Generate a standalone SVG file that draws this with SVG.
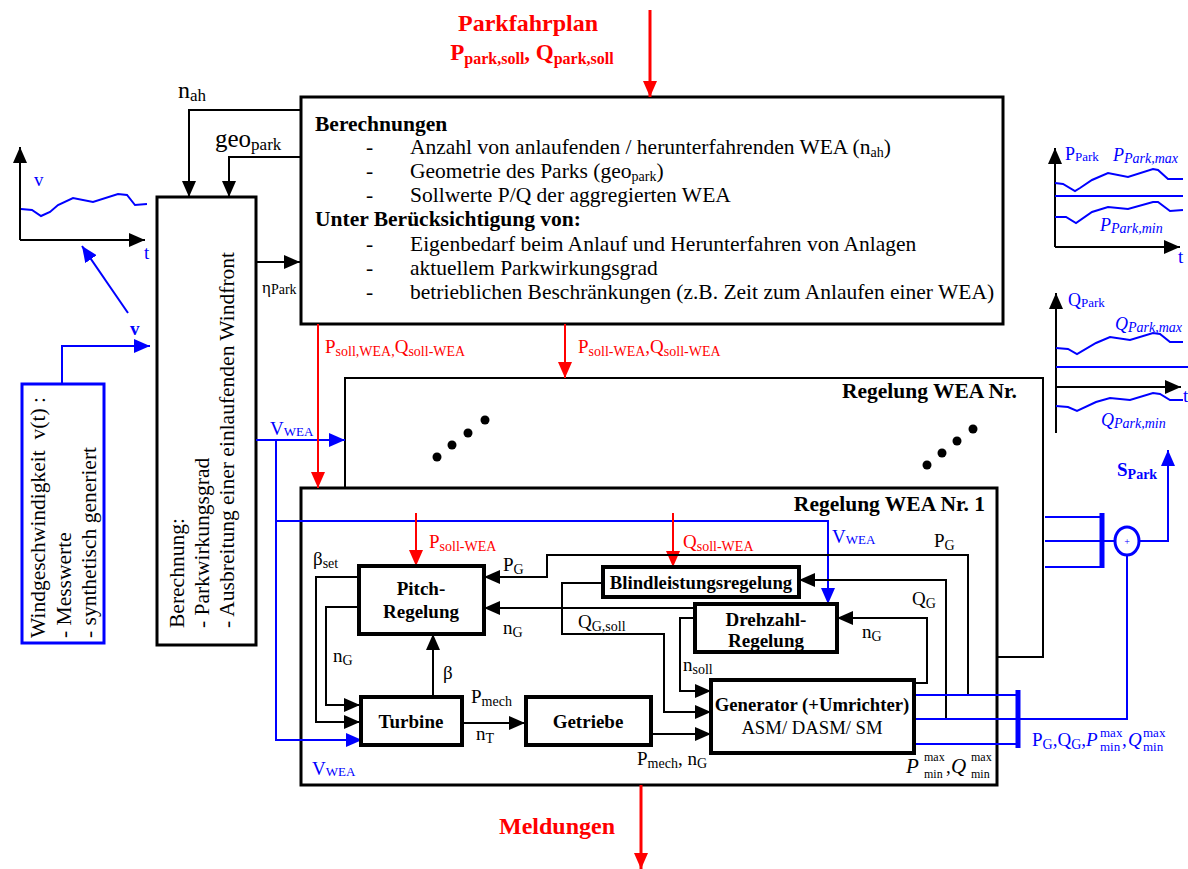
<svg xmlns="http://www.w3.org/2000/svg" width="1188" height="869" viewBox="0 0 1188 869">
<defs>
<style>
text{font-family:"Liberation Serif","Times New Roman",serif;fill:#000;font-size:19px}
.f17{font-size:17px}
.f18{font-size:18px}
.fb{font-size:18.7px}
.fm{font-size:21.5px}
.f24{font-size:24px}
.b{font-weight:bold}
.i{font-style:italic}
.red{fill:#f00}
.blue{fill:#00f}
.s{font-size:13px}
.s12{font-size:12px}
.s14{font-size:14px}
.s16{font-size:16px}
.box{fill:#fff;stroke:#000;stroke-width:3}
.blk{fill:#fff;stroke:#000;stroke-width:4}
.w{fill:none;stroke:#000;stroke-width:2}
.wb{fill:none;stroke:#00f;stroke-width:2}
.wr{fill:none;stroke:#f00;stroke-width:2}
.ctr{text-anchor:middle}
.end{text-anchor:end}
</style>
<marker id="ak" markerUnits="userSpaceOnUse" markerWidth="16" markerHeight="14" refX="16" refY="7" orient="auto"><path d="M0,0 L16,7 L0,14 z" fill="#000"/></marker>
<marker id="abl" markerUnits="userSpaceOnUse" markerWidth="16" markerHeight="14" refX="16" refY="7" orient="auto"><path d="M0,0 L16,7 L0,14 z" fill="#00f"/></marker>
<marker id="ar" markerUnits="userSpaceOnUse" markerWidth="16" markerHeight="14" refX="16" refY="7" orient="auto"><path d="M0,0 L16,7 L0,14 z" fill="#f00"/></marker>
</defs>
<rect width="1188" height="869" fill="#fff"/>

<!-- schedule input -->
<g id="parkfahrplan">
<text x="528" y="31" class="f24 b red ctr">Parkfahrplan</text>
<text x="532" y="60" class="b red ctr" style="font-size:23px">P<tspan class="s16" dy="4">park,soll</tspan><tspan dy="-4">, Q</tspan><tspan class="s16" dy="4">park,soll</tspan></text>
</g>

<!-- wind speed chart -->
<g id="chart-v">
<path d="M20,240 V147" class="w" marker-end="url(#ak)"/>
<path d="M20,240 H145" class="w" marker-end="url(#ak)"/>
<path d="M21,209 L32,210 L41,216 L50,212 L58,205 L73,198 L93,202 L118,194 L127,195 L135,205 L147,204" class="wb"/>
<text x="34" y="186" class="blue">v</text>
<text x="144" y="259" class="blue">t</text>
</g>

<!-- wind speed source -->
<g id="wind-source">
<rect x="22" y="384" width="82" height="259" fill="#fff" stroke="#00f" stroke-width="3"/>
<text transform="translate(45,638) rotate(-90)" class="fm" xml:space="preserve">Windgeschwindigkeit  v(t) :</text>
<text transform="translate(71,638) rotate(-90)" class="fm">- Messwerte</text>
<text transform="translate(96,638) rotate(-90)" class="fm">- synthetisch generiert</text>
</g>

<!-- park level wind front calculation -->
<g id="windfront">
<rect x="157" y="197" width="99" height="448" class="box"/>
<text transform="translate(184,628) rotate(-90)" class="fm">Berechnung:</text>
<text transform="translate(209,628) rotate(-90)" class="fm">- Parkwirkungsgrad</text>
<text transform="translate(234,628) rotate(-90)" class="fm">- Ausbreitung einer einlaufenden Windfront</text>
</g>

<!-- park level calculations -->
<g id="berechnungen">
<rect x="301" y="97" width="702" height="227" class="box"/>
<text x="315" y="131" class="fm b">Berechnungen</text>
<text x="366" y="154" class="fm">-</text>
<text x="410" y="154" class="fm">Anzahl von anlaufenden / herunterfahrenden WEA (n<tspan class="s14" dy="3">ah</tspan><tspan dy="-3">)</tspan></text>
<text x="366" y="178" class="fm">-</text>
<text x="410" y="178" class="fm">Geometrie des Parks (geo<tspan class="s14" dy="3">park</tspan><tspan dy="-3">)</tspan></text>
<text x="366" y="202" class="fm">-</text>
<text x="410" y="202" class="fm">Sollwerte P/Q der aggregierten WEA</text>
<text x="315" y="226" class="fm b">Unter Berücksichtigung von:</text>
<text x="366" y="251" class="fm">-</text>
<text x="410" y="251" class="fm">Eigenbedarf beim Anlauf und Herunterfahren von Anlagen</text>
<text x="366" y="275" class="fm">-</text>
<text x="410" y="275" class="fm">aktuellem Parkwirkungsgrad</text>
<text x="366" y="299" class="fm">-</text>
<text x="410" y="299" class="fm">betrieblichen Beschränkungen (z.B. Zeit zum Anlaufen einer WEA)</text>
</g>

<!-- stacked turbine controllers -->
<g id="regelung-n">
<path d="M345,488 V378 H1043 V657 H997" fill="none" stroke="#000" stroke-width="2"/>
<text x="1017" y="398" class="fm b end">Regelung WEA Nr.</text>
<circle cx="437" cy="457" r="4.5"/><circle cx="452" cy="445" r="4.5"/><circle cx="468" cy="433" r="4.5"/><circle cx="485" cy="420" r="4.5"/>
<circle cx="927" cy="465" r="4.5"/><circle cx="942" cy="453" r="4.5"/><circle cx="957" cy="441" r="4.5"/><circle cx="973" cy="429" r="4.5"/>
</g>

<g id="regelung-1">
<rect x="301" y="488" width="696" height="297" class="box"/>
<text x="985" y="511" class="fm b end">Regelung WEA Nr. 1</text>
</g>

<!-- power chart -->
<g id="chart-p">
<path d="M1055,247 V148" class="w" marker-end="url(#ak)"/>
<path d="M1055,247 H1180" class="w" marker-end="url(#ak)"/>
<path d="M1055,183 L1063,184 L1075,191 L1080,188 L1092,180 L1108,173 L1128,177 L1153,169 L1158,170 L1168,179 L1183,179" class="wb"/>
<path d="M1055,196 H1183" class="wb"/>
<path d="M1055,217 L1066,217 L1076,223 L1092,212 L1108,207 L1128,209 L1153,202 L1158,202 L1170,211 L1183,210" class="wb"/>
<text x="1065" y="160" class="blue f18">P<tspan class="s" dy="1">Park</tspan></text>
<text x="1113" y="161" class="blue i f18">P<tspan class="s14" dy="2">Park,max</tspan></text>
<text x="1100" y="231" class="blue i f18">P<tspan class="s14" dy="2">Park,min</tspan></text>
<text x="1178" y="263" class="blue">t</text>
</g>

<!-- reactive power chart -->
<g id="chart-q">
<path d="M1056,433 V293" class="w" marker-end="url(#ak)"/>
<path d="M1056,387 H1181" class="w" marker-end="url(#ak)"/>
<path d="M1056,348 L1068,349 L1077,354 L1096,343 L1110,337 L1130,340 L1153,333 L1160,334 L1170,342 L1183,342" class="wb"/>
<path d="M1056,367 H1188" class="wb"/>
<path d="M1056,406 L1068,407 L1077,411 L1096,402 L1110,398 L1130,400 L1153,393 L1160,394 L1170,400 L1183,400" class="wb"/>
<text x="1068" y="306" class="blue f18">Q<tspan class="s" dy="1">Park</tspan></text>
<text x="1115" y="330" class="blue i f18">Q<tspan class="s14" dy="2">Park,max</tspan></text>
<text x="1101" y="426" class="blue i f18">Q<tspan class="s14" dy="2">Park,min</tspan></text>
<text x="1183" y="402" class="blue">t</text>
</g>

<!-- connectors -->
<g id="connectors">
<path d="M650,10 V97" fill="none" stroke="#f00" stroke-width="3" marker-end="url(#ar)"/>
<path d="M301,110 H189 V197" class="w" marker-end="url(#ak)"/>
<path d="M301,157 H229 V197" class="w" marker-end="url(#ak)"/>
<path d="M256,262 H300" class="w" marker-end="url(#ak)"/>
<path d="M128,313 L82,246" class="wb" marker-end="url(#abl)"/>
<path d="M62,384 V346 H150" class="wb" marker-end="url(#abl)"/>
<path d="M256,440 H345" class="wb" marker-end="url(#abl)"/>
<path d="M276,440 V740 H362" class="wb" marker-end="url(#abl)"/>
<path d="M276,521 H828 V604" class="wb" marker-end="url(#abl)"/>
<path d="M318,324 V488" class="wr" marker-end="url(#ar)"/>
<path d="M565,324 V378" class="wr" marker-end="url(#ar)"/>
<path d="M416,513 V566" class="wr" marker-end="url(#ar)"/>
<path d="M673,513 V567" class="wr" marker-end="url(#ar)"/>
<path d="M968,695 V555 H547 V577 H484" class="w" marker-end="url(#ak)"/>
<path d="M946,719 V580 H799" class="w" marker-end="url(#ak)"/>
<path d="M914,683 H927 V618 H837" class="w" marker-end="url(#ak)"/>
<path d="M695,608 H484" class="w" marker-end="url(#ak)"/>
<path d="M603,583 H562 V634 H664 V712 H711" class="w" marker-end="url(#ak)"/>
<path d="M695,618 H680 V691 H711" class="w" marker-end="url(#ak)"/>
<path d="M651,734 H711" class="w" marker-end="url(#ak)"/>
<path d="M462,723 H525" class="w" marker-end="url(#ak)"/>
<path d="M433,697 V634" class="w" marker-end="url(#ak)"/>
<path d="M358,577 H316 V722 H360" class="w" marker-end="url(#ak)"/>
<path d="M358,607 H326 V705 H360" class="w" marker-end="url(#ak)"/>
<path d="M914,695 H1018 M914,719 H1018 M914,744 H1018" class="wb"/>
<path d="M1018,690 V748" stroke="#00f" stroke-width="5"/>
<path d="M1045,517 H1102 M1045,541 H1102 M1045,567 H1102" class="wb"/>
<path d="M1102,513 V568" stroke="#00f" stroke-width="5"/>
<path d="M1102,541 H1115" class="wb"/>
<path d="M1127,555 V719 H1018" class="wb"/>
<path d="M1139,541 H1168 V450" class="wb" marker-end="url(#abl)"/>
<path d="M641,785 V869" fill="none" stroke="#f00" stroke-width="3" marker-end="url(#ar)"/>
</g>

<!-- sum point -->
<g id="summe">
<ellipse cx="1127" cy="541" rx="12" ry="14" fill="#fff" stroke="#00f" stroke-width="3"/>
<text x="1127" y="545" class="blue ctr" style="font-size:10px">+</text>
</g>

<!-- blocks inside controller 1 -->
<g id="pitch">
<rect x="359" y="566" width="125" height="68" class="blk"/>
<text x="421" y="595" class="b ctr">Pitch-</text>
<text x="421" y="618" class="b ctr">Regelung</text>
</g>
<g id="turbine">
<rect x="361" y="697" width="101" height="48" class="blk"/>
<text x="411" y="728" class="b ctr">Turbine</text>
</g>
<g id="getriebe">
<rect x="526" y="697" width="125" height="48" class="blk"/>
<text x="588" y="728" class="b ctr">Getriebe</text>
</g>
<g id="blindleistung">
<rect x="603" y="567" width="196" height="30" class="blk"/>
<text x="701" y="589" class="b ctr fb">Blindleistungsregelung</text>
</g>
<g id="drehzahl">
<rect x="695" y="604" width="142" height="48" class="blk"/>
<text x="766" y="626" class="b ctr">Drehzahl-</text>
<text x="766" y="647" class="b ctr">Regelung</text>
</g>
<g id="generator">
<rect x="711" y="680" width="203" height="73" class="blk"/>
<text x="812" y="711" class="b ctr fb">Generator (+Umrichter)</text>
<text x="812" y="734" class="ctr fb">ASM/ DASM/ SM</text>
</g>

<!-- signal labels -->
<g id="labels">
<text x="178" y="98" style="font-size:24px">n<tspan style="font-size:17px" dy="3">ah</tspan></text>
<text x="215" y="147" style="font-size:25px">geo<tspan style="font-size:17px" dy="3">park</tspan></text>
<text x="262" y="293" class="f17">η<tspan class="s14" dy="1">Park</tspan></text>
<text x="130" y="335" class="blue b">v</text>
<text x="270" y="435" class="blue">V<tspan class="s" dy="1">WEA</tspan></text>
<text x="325" y="353" class="red">P<tspan class="s14" dy="3">soll,WEA,</tspan><tspan dy="-3">Q</tspan><tspan class="s14" dy="3">soll-WEA</tspan></text>
<text x="578" y="353" class="red">P<tspan class="s14" dy="3">soll-WEA</tspan><tspan dy="-3">,Q</tspan><tspan class="s14" dy="3">soll-WEA</tspan></text>
<text x="429" y="548" class="red">P<tspan class="s14" dy="3">soll-WEA</tspan></text>
<text x="683" y="548" class="red">Q<tspan class="s14" dy="3">soll-WEA</tspan></text>
<text x="832" y="543" class="blue">V<tspan class="s" dy="1">WEA</tspan></text>
<text x="934" y="547">P<tspan class="s14" dy="3">G</tspan></text>
<text x="313" y="565">β<tspan class="s14" dy="3">set</tspan></text>
<text x="503" y="571">P<tspan class="s14" dy="3">G</tspan></text>
<text x="503" y="634">n<tspan class="s14" dy="3">G</tspan></text>
<text x="333" y="662">n<tspan class="s14" dy="3">G</tspan></text>
<text x="443" y="679">β</text>
<text x="471" y="703">P<tspan class="s14" dy="3">mech</tspan></text>
<text x="476" y="740">n<tspan class="s14" dy="3">T</tspan></text>
<text x="637" y="765">P<tspan class="s14" dy="3">mech</tspan><tspan dy="-3">, n</tspan><tspan class="s14" dy="3">G</tspan></text>
<text x="312" y="775" class="blue">V<tspan class="s" dy="1">WEA</tspan></text>
<text x="578" y="628">Q<tspan class="s14" dy="3">G,soll</tspan></text>
<text x="683" y="671">n<tspan class="s14" dy="3">soll</tspan></text>
<text x="912" y="605">Q<tspan class="s14" dy="3">G</tspan></text>
<text x="862" y="638">n<tspan class="s14" dy="3">G</tspan></text>
<text x="906" y="773" class="i" style="font-size:21px">P</text>
<text x="924" y="761" class="s12">max</text>
<text x="924" y="778" class="s12">min</text>
<text x="946" y="773">,</text>
<text x="951" y="773" class="i" style="font-size:21px">Q</text>
<text x="971" y="761" class="s12">max</text>
<text x="971" y="778" class="s12">min</text>
<text x="1032" y="746" class="blue">P<tspan class="s14" dy="3">G</tspan><tspan dy="-3">,Q</tspan><tspan class="s14" dy="3">G</tspan><tspan dy="-3">,</tspan><tspan class="i">P</tspan></text>
<text x="1100" y="737" class="blue s">max</text>
<text x="1100" y="751" class="blue s">min</text>
<text x="1122" y="746" class="blue">,</text>
<text x="1128" y="746" class="blue i">Q</text>
<text x="1143" y="737" class="blue s">max</text>
<text x="1143" y="751" class="blue s">min</text>
<text x="1117" y="476" class="blue b">S<tspan class="s14" dy="3">Park</tspan></text>
<text x="557" y="834" class="red f24 b ctr">Meldungen</text>
</g>
</svg>
